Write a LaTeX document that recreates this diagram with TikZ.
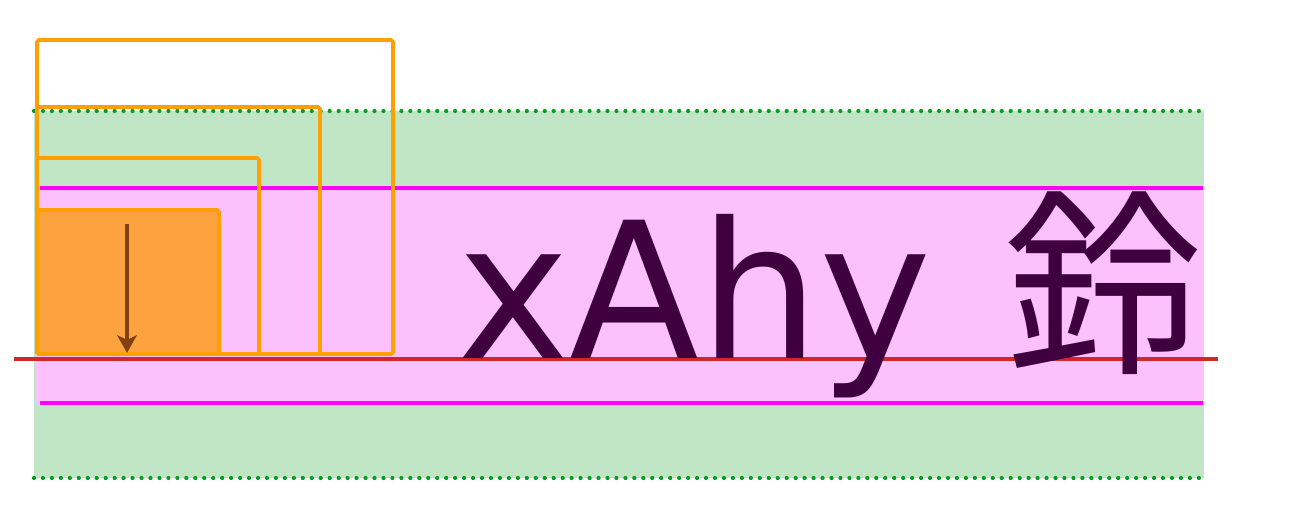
\documentclass[tikz,border=0pt]{standalone}
\usepackage{fontspec}
\usepackage{tikz}
\usetikzlibrary{arrows.meta}
\newfontfamily\latinfont{DejaVu Sans}
\newfontfamily\cjkfont{Noto Sans CJK KR}
\definecolor{glvert}{HTML}{C0E6C6}
\definecolor{glvertpt}{HTML}{00A01A}
\definecolor{glrose}{HTML}{FCC0FC}
\definecolor{glmagenta}{HTML}{FF00FF}
\definecolor{glrouge}{HTML}{D02828}
\definecolor{glorange}{HTML}{FFA000}
\definecolor{glorangepale}{HTML}{FCA33F}
\definecolor{glbrun}{HTML}{804010}
\definecolor{gltexte}{HTML}{400040}

\begin{document}
\begin{tikzpicture}[x=0.02cm,y=-0.02cm,
  boite/.style={draw=glorange,line width=2pt,rounded corners=1pt}]
  \useasboundingbox (0,0) rectangle (1299,526);
  % bandes de fond
  \fill[glvert] (34,111) rectangle (1204,478);
  \fill[glrose] (35,188) rectangle (1204,403);
  \foreach \y in {111,478}
    \draw[glvertpt,line width=2.4pt,line cap=round,dash pattern=on 0pt off 5.1pt] (34,\y) -- (1204,\y);
  \foreach \y in {188,403}
    \draw[glmagenta,line width=2.2pt] (40,\y) -- (1203,\y);
  % boites : droite / haut
  \foreach \r/\t in {393/40,320/107,259/158}
    \draw[boite] (37,354) rectangle (\r,\t);
  \draw[boite,fill=glorangepale] (37,354) rectangle (219,210);
  % ligne de base
  \draw[glrouge,line width=2pt] (14,359) -- (1218,359);
  % texte
  \node[anchor=base west,inner sep=0,text=gltexte] (mot) at (457,359)
    {\fontsize{108}{130}\latinfont xAhy\hspace{41pt}\fontsize{113}{130}\cjkfont 鈴};
  % fleche
  \coordinate (haut) at (127,224);
  \coordinate (bas) at (127,353);
  \draw[glbrun,line width=2.4pt,-{Stealth[length=10pt,width=11pt,inset=2.5pt]}] (haut) -- (bas);
\end{tikzpicture}
\end{document}
